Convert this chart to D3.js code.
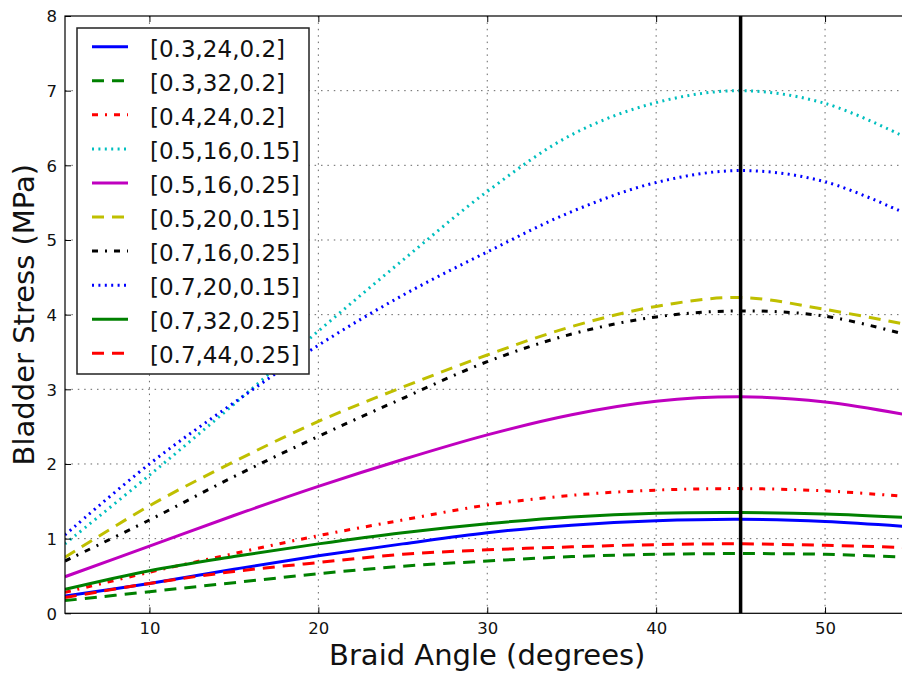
<!DOCTYPE html>
<html><head><meta charset="utf-8">
<script src="https://cdn.jsdelivr.net/npm/d3@7/dist/d3.min.js"></script>
<style>html,body{margin:0;padding:0;background:#fff;overflow:hidden}svg{display:block;font-family:"DejaVu Sans",sans-serif}</style>
</head><body><svg id="chart" width="902" height="673"></svg>
<script>
// ---- data ----
const braidAngles = [5, 10, 15, 20, 25, 30, 35, 40, 45, 50, 55];
const seriesLabels = ["[0.3,24,0.2]", "[0.3,32,0.2]", "[0.4,24,0.2]", "[0.5,16,0.15]", "[0.5,16,0.25]",
                      "[0.5,20,0.15]", "[0.7,16,0.25]", "[0.7,20,0.15]", "[0.7,32,0.25]", "[0.7,44,0.25]"];
const stress_03_24_020 = [0.23, 0.40, 0.59, 0.77, 0.93, 1.08, 1.18, 1.24, 1.26, 1.23, 1.16];
const stress_03_32_020 = [0.17, 0.29, 0.41, 0.53, 0.63, 0.70, 0.76, 0.79, 0.80, 0.79, 0.75];
const stress_04_24_020 = [0.28, 0.55, 0.80, 1.04, 1.25, 1.45, 1.58, 1.65, 1.67, 1.64, 1.56];
const stress_05_16_015 = [0.93, 1.85, 2.80, 3.78, 4.73, 5.65, 6.41, 6.84, 7.00, 6.83, 6.35];
const stress_05_16_025 = [0.49, 0.90, 1.31, 1.70, 2.06, 2.39, 2.66, 2.84, 2.90, 2.83, 2.65];
const stress_05_20_015 = [0.75, 1.44, 2.03, 2.57, 3.03, 3.46, 3.84, 4.11, 4.23, 4.07, 3.86];
const stress_07_16_025 = [0.70, 1.25, 1.83, 2.37, 2.88, 3.37, 3.74, 3.97, 4.05, 3.98, 3.72];
const stress_07_20_015 = [1.05, 2.00, 2.82, 3.59, 4.26, 4.84, 5.38, 5.77, 5.93, 5.78, 5.33];
const stress_07_32_025 = [0.32, 0.57, 0.76, 0.93, 1.08, 1.20, 1.29, 1.34, 1.35, 1.33, 1.28];
const stress_07_44_025 = [0.21, 0.40, 0.56, 0.68, 0.79, 0.85, 0.89, 0.92, 0.93, 0.91, 0.88];
const xTickValues = [10, 20, 30, 40, 50];
const yTickValues = [0, 1, 2, 3, 4, 5, 6, 7, 8];
const markerAngle = 45;
const xLabel = "Braid Angle (degrees)";
const yLabel = "Bladder Stress (MPa)";

// ---- styles ----
const DASH = "12,8", DOT = "2,4.4", DASHDOT = "6,7,2,7";
const styles = [
  {color: "#0000ff", dash: null},
  {color: "#008000", dash: DASH},
  {color: "#ff0000", dash: DASHDOT},
  {color: "#00bfbf", dash: DOT},
  {color: "#bf00bf", dash: null},
  {color: "#bfbf00", dash: DASH},
  {color: "#000000", dash: DASHDOT},
  {color: "#0000ff", dash: DOT},
  {color: "#008000", dash: null},
  {color: "#ff0000", dash: DASH}
];
const allSeries = [stress_03_24_020, stress_03_32_020, stress_04_24_020, stress_05_16_015, stress_05_16_025,
                   stress_05_20_015, stress_07_16_025, stress_07_20_015, stress_07_32_025, stress_07_44_025];

// ---- layout ----
const svg = d3.select("#chart");
const L = 65, R = 909.5, T = 16, B = 613.3;
const x = d3.scaleLinear().domain([5, 55]).range([L, R]);
const y = d3.scaleLinear().domain([0, 8]).range([B, T]);

svg.append("defs").append("clipPath").attr("id", "plotclip")
  .append("rect").attr("x", L).attr("y", T).attr("width", R - L).attr("height", B - T);

// grid
const grid = svg.append("g").attr("stroke", "#000").attr("stroke-width", 0.8)
  .attr("stroke-dasharray", "1.5,4.9").attr("opacity", 0.75);
grid.selectAll(".gx").data(xTickValues).join("line")
  .attr("x1", d => x(d)).attr("x2", d => x(d)).attr("y1", T).attr("y2", B);
grid.selectAll(".gy").data(yTickValues.filter(v => v > 0 && v < 8)).join("line")
  .attr("x1", L).attr("x2", R).attr("y1", d => y(d)).attr("y2", d => y(d));

// series
const line = d3.line().x((d, i) => x(braidAngles[i])).y(d => y(d)).curve(d3.curveCatmullRom.alpha(0.5));
const plot = svg.append("g").attr("clip-path", "url(#plotclip)");
allSeries.forEach((s, i) => {
  plot.append("path").datum(s).attr("d", line).attr("fill", "none")
    .attr("stroke", styles[i].color).attr("stroke-width", 3)
    .attr("stroke-dasharray", styles[i].dash);
});

// vertical marker at 45 deg
plot.append("line").attr("x1", x(markerAngle)).attr("x2", x(markerAngle))
  .attr("y1", y(8)).attr("y2", y(0)).attr("stroke", "#000").attr("stroke-width", 3.5);

// axes
const fontTick = "16.5px";
const ax = svg.append("g").attr("transform", `translate(0,${B})`)
  .call(d3.axisBottom(x).tickValues(xTickValues).tickFormat(d3.format("d")).tickSizeInner(-6).tickSizeOuter(0).tickPadding(9));
const ay = svg.append("g").attr("transform", `translate(${L},0)`)
  .call(d3.axisLeft(y).tickValues(yTickValues).tickFormat(d3.format("d")).tickSizeInner(-6).tickSizeOuter(0).tickPadding(8));
const at = svg.append("g").attr("transform", `translate(0,${T})`)
  .call(d3.axisTop(x).tickValues(xTickValues).tickFormat("").tickSizeInner(-6).tickSizeOuter(0));
const ar = svg.append("g").attr("transform", `translate(${R},0)`)
  .call(d3.axisRight(y).tickValues(yTickValues).tickFormat("").tickSizeInner(-6).tickSizeOuter(0));
[ax, ay, at, ar].forEach(g => {
  g.select(".domain").remove();
  g.selectAll("line").attr("stroke", "#000").attr("stroke-width", 1);
  g.selectAll("text").attr("fill", "#111").style("font-size", fontTick).style("font-family", "DejaVu Sans");
});
ay.selectAll("text").attr("dy", "0.36em");

// frame
svg.append("rect").attr("x", L).attr("y", T).attr("width", R - L).attr("height", B - T)
  .attr("fill", "none").attr("stroke", "#000").attr("stroke-width", 1.2);

// axis labels
svg.append("text").attr("x", (L + R) / 2).attr("y", 665).attr("text-anchor", "middle")
  .style("font-size", "29px").attr("fill", "#111").text(xLabel);
svg.append("text").attr("transform", `translate(34,${(T + B) / 2}) rotate(-90)`).attr("text-anchor", "middle")
  .style("font-size", "29px").attr("fill", "#111").text(yLabel);

// legend
const lg = svg.append("g");
lg.append("rect").attr("x", 77).attr("y", 28).attr("width", 232).attr("height", 346)
  .attr("fill", "#fff").attr("stroke", "#222").attr("stroke-width", 1.5);
const rowY = i => 46.7 + i * 34.07;
seriesLabels.forEach((lab, i) => {
  lg.append("line").attr("x1", 92).attr("x2", 128).attr("y1", rowY(i)).attr("y2", rowY(i))
    .attr("stroke", styles[i].color).attr("stroke-width", 3).attr("stroke-dasharray", styles[i].dash);
  lg.append("text").attr("x", 150).attr("y", rowY(i) + 10).style("font-size", "23px")
    .attr("fill", "#111").text(lab);
});
</script></body></html>
